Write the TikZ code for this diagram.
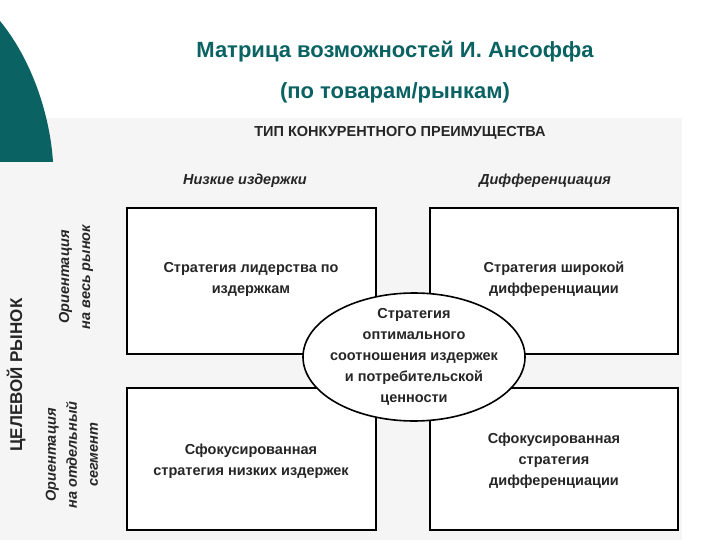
\documentclass[tikz,border=0pt]{standalone}
\usepackage{fontspec}
\setmainfont{Liberation Sans}
\usetikzlibrary{shapes.geometric}
\definecolor{teal1}{HTML}{0B6262}
\begin{document}
\begin{tikzpicture}[x=1pt,y=-1pt,
  box/.style={draw=black,line width=1.6pt,fill=white},
  btxt/.style={font=\bfseries\fontsize{14.5}{21}\selectfont,align=center,text=black!85},
  lbl/.style={font=\bfseries\itshape\fontsize{14.5}{21}\selectfont,align=center,text=black!85}]
\useasboundingbox (0,0) rectangle (720,540);
\fill[white] (0,0) rectangle (720,540);
\fill[black!4] (0,118) rectangle (682,540);
\fill[teal1] (0,21) .. controls (32,60) and (50,115) .. (53,162) -- (0,162) -- cycle;
\node[text=teal1,font=\fontsize{22}{24}\selectfont\bfseries] (t1) at (395,52) {Матрица возможностей И. Ансоффа};
\node[text=teal1,font=\fontsize{22}{24}\selectfont\bfseries] (t2) at (395,93) {(по товарам/рынкам)};
\node[btxt] (h) at (400,133) {ТИП КОНКУРЕНТНОГО ПРЕИМУЩЕСТВА};
\node[lbl] (lc) at (245,181) {Низкие издержки};
\node[lbl] (dc) at (545,181) {Дифференциация};
\node[btxt,rotate=90,font=\bfseries\fontsize{17}{20}\selectfont] (cr) at (16,375) {ЦЕЛЕВОЙ РЫНОК};
\node[lbl,rotate=90] (r1) at (76,277) {Ориентация\\на весь рынок};
\node[lbl,rotate=90] (r2) at (72,455) {Ориентация\\на отдельный\\сегмент};
\draw[box] (127,208) rectangle (376,354);
\draw[box] (430,208) rectangle (678,354);
\draw[box] (127,388) rectangle (376,530);
\draw[box] (430,388) rectangle (678,530);
\node[btxt] (a) at (251,279) {Стратегия лидерства по\\издержкам};
\node[btxt] (b) at (554,279) {Стратегия широкой\\дифференциации};
\node[btxt] (c) at (251,461) {Сфокусированная\\стратегия низких издержек};
\node[btxt] (d) at (554,461) {Сфокусированная\\стратегия\\дифференциации};
\node[draw=black,line width=1.6pt,fill=white,ellipse,minimum width=222pt,minimum height=128pt,inner sep=0pt] (e) at (414,357) {};
\node[btxt] at (e.center) {Стратегия\\оптимального\\соотношения издержек\\и потребительской\\ценности};
\end{tikzpicture}
\end{document}
